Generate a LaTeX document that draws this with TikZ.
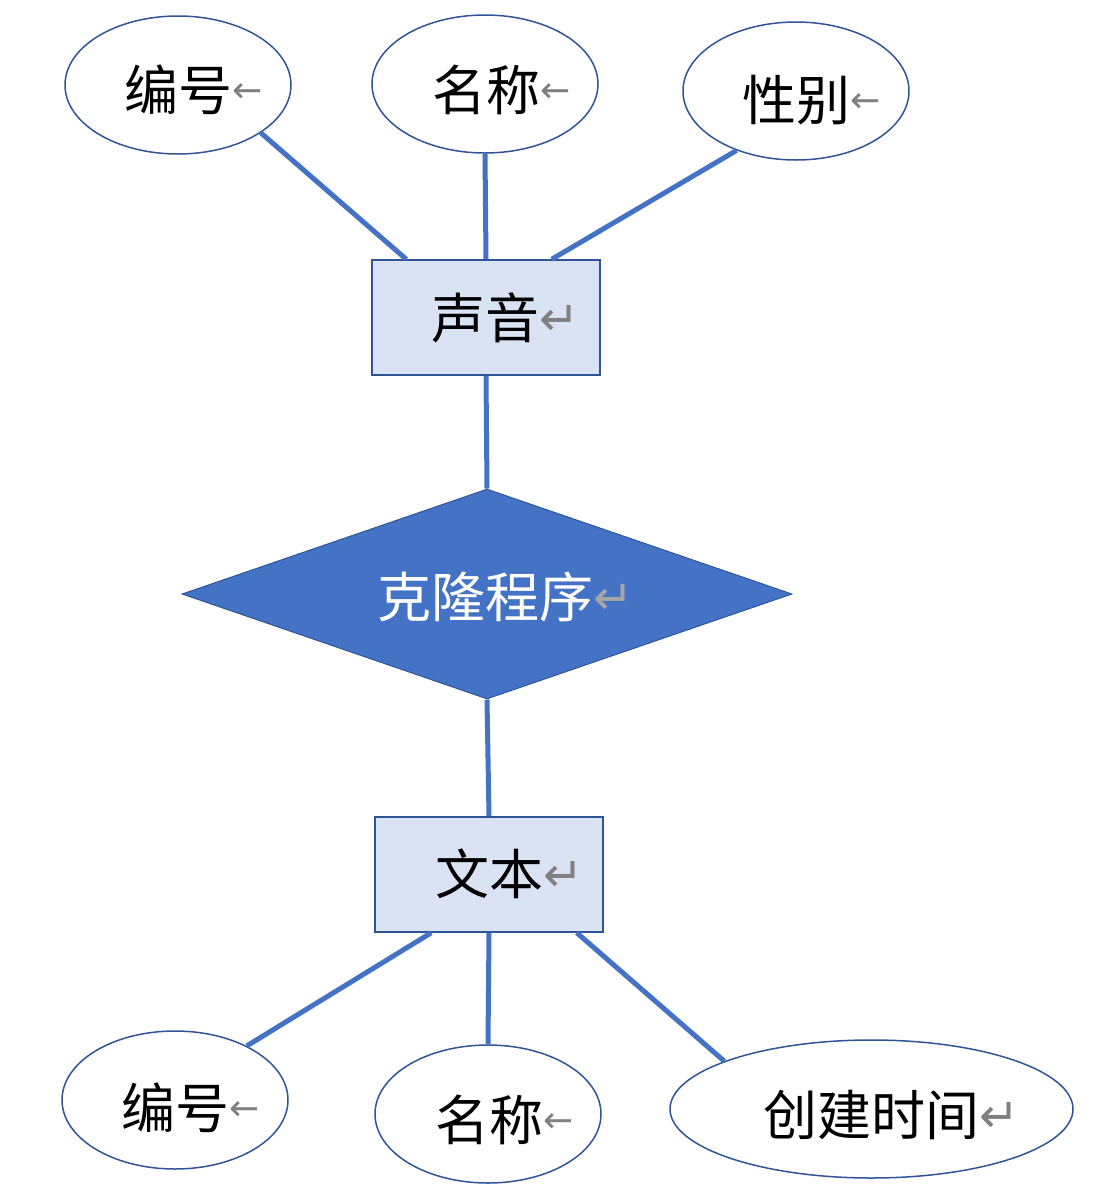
\documentclass[tikz,border=0pt]{standalone}
\usepackage{fontspec}
\usetikzlibrary{shapes.geometric}
\newfontfamily\cjk{Noto Sans CJK SC}
\newfontfamily\symfont{DejaVu Sans}
\definecolor{erline}{HTML}{4472C4}
\definecolor{erborder}{HTML}{2F5597}
\definecolor{erfill}{HTML}{DAE3F3}
\newcommand{\lmark}{\raisebox{8pt}{\symfont\fontsize{36}{40}\selectfont\color{gray}←}}
\newcommand{\pmark}[1][gray]{\raisebox{3pt}{\symfont\fontsize{48}{52}\selectfont\color{#1}↵}}

\begin{document}
\begin{tikzpicture}[
  x=1pt, y=-1pt,
  attr/.style={ellipse,draw=erborder,line width=1.5pt,fill=white,
    minimum width=226pt,minimum height=138pt,inner sep=0pt},
  entity/.style={rectangle,draw=erborder,line width=1.5pt,fill=erfill,
    minimum width=228pt,minimum height=115pt,inner sep=0pt},
  rel/.style={diamond,draw=erborder,line width=1pt,fill=erline,
    minimum width=610pt,minimum height=210pt,inner sep=0pt},
  txt/.style={anchor=west,inner sep=0pt,font=\cjk\fontsize{54}{60}\selectfont},
  link/.style={erline,line width=5pt}
]
\useasboundingbox (0,0) rectangle (1103,1200);

% shapes
\node[attr] (a1) at (178,85) {};
\node[attr] (a2) at (485,84) {};
\node[attr] (a3) at (796,91) {};
\node[entity] (sy) at (486,317.5) {};
\node[rel] (kl) at (487,594) {};
\node[entity] (wb) at (489,874.5) {};
\node[attr] (b1) at (175,1100) {};
\node[attr] (b2) at (488,1114) {};
\node[attr,minimum width=403pt] (b3) at (871.5,1109) {};

% texts
\node[txt] (ta1) at (124,90) {编号\lmark};
\node[txt] (ta2) at (432,90) {名称\lmark};
\node[txt] (ta3) at (742,100) {性别\lmark};
\node[txt] (tsy) at (431,318) {声音\pmark};
\node[txt,text=white] (tkl) at (377,597) {克隆程序\pmark[gray!70]};
\node[txt] (twb) at (435,874) {文本\pmark};
\node[txt] (tb1) at (121,1108) {编号\lmark};
\node[txt] (tb2) at (435,1120) {名称\lmark};
\node[txt] (tb3) at (763,1115) {创建时间\pmark};

% links
\draw[link] (a1.-30) -- ([xshift=35pt]sy.north west);
\draw[link] (a2.south) -- (sy.north);
\draw[link] (a3.-135) -- ([xshift=-49pt]sy.north east);
\draw[link] (sy.south) -- (kl.north);
\draw[link] (kl.south) -- (wb.north);
\draw[link] ([xshift=57pt]wb.south west) -- (b1.37);
\draw[link] (wb.south) -- (b2.north);
\draw[link] ([xshift=-27pt]wb.south east) -- (b3.162);
\end{tikzpicture}
\end{document}
